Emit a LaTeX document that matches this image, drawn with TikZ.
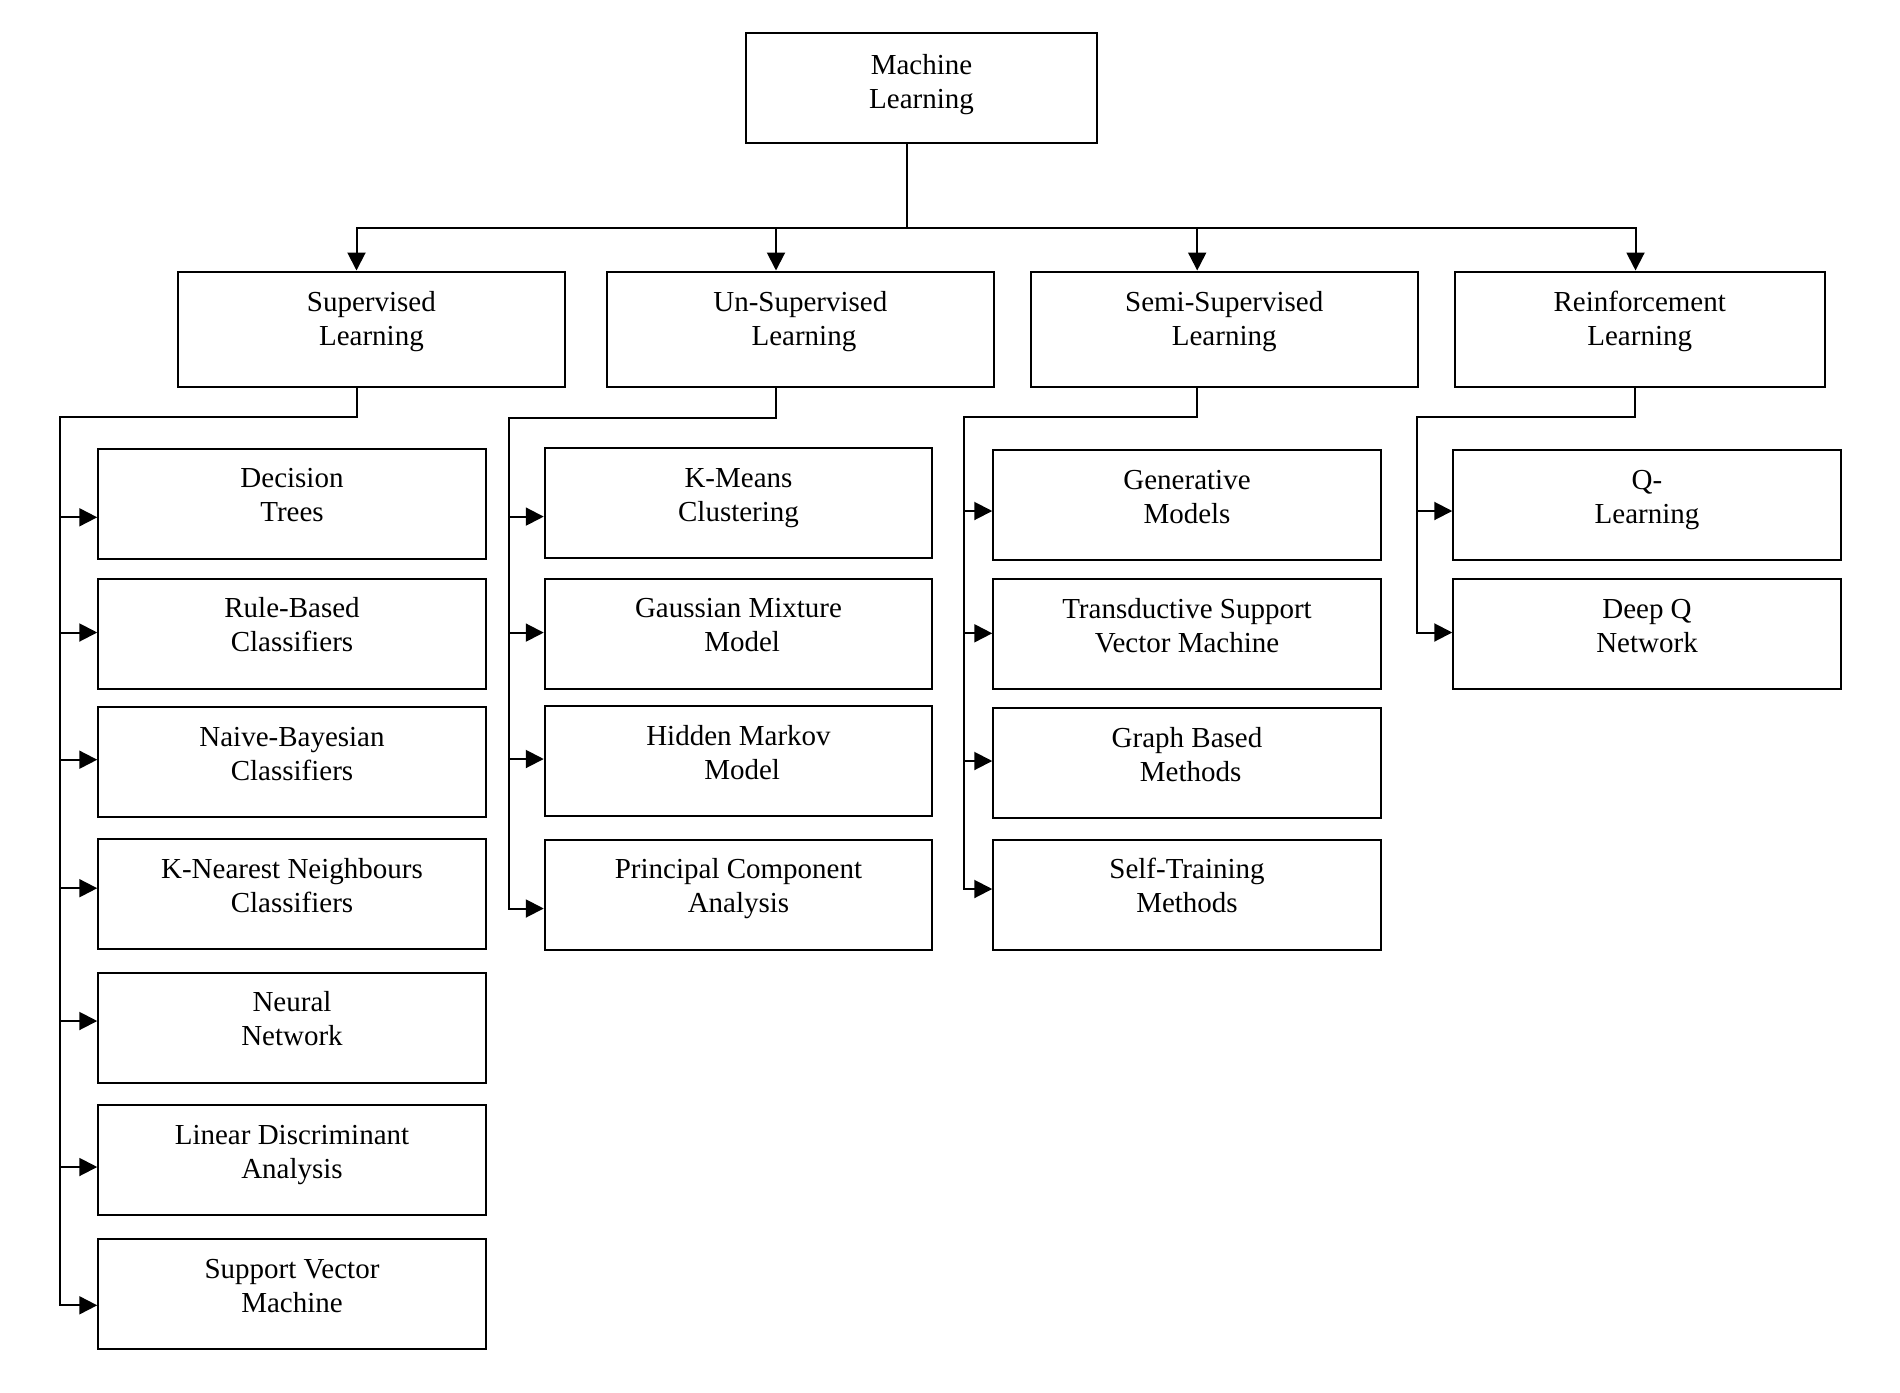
\documentclass[tikz,border=0pt]{standalone}
\usepackage{fontspec}
\setmainfont{Liberation Serif}
\usetikzlibrary{arrows.meta,calc}
% two-line box caption with struts so every caption has the same extent
\newcommand{\mltext}[2]{\strut #1\\#2\strut}
\begin{document}
\begin{tikzpicture}[x=0.5pt,y=-0.5pt,
  catbox/.style={draw, line width=1pt, inner sep=0pt, minimum width=#1},
  topbox/.style={catbox=175.5pt, minimum height=55.4pt},
  headbox/.style={catbox=193.4pt, minimum height=57.6pt},
  leafbox/.style={catbox=193.75pt, minimum height=55pt},
  caption/.style={align=center, inner sep=0pt, font=\fontsize{14.5}{17}\selectfont},
  wire/.style={line width=1pt},
  arr/.style={wire, -{Triangle[length=9pt,width=9pt]}}]
\useasboundingbox (0,0) rectangle (1900,1392);

% root
\node[topbox] (ml) at (921.5,88) {};
\node[caption] (ml-t) at ($(ml.center)+(0,-3.5)$) {\mltext{Machine}{Learning}};

% main categories
\node[headbox] (sup)  at (371.4,329.1) {};
\node[headbox] (uns)  at (800.3,329.1) {};
\node[headbox] (semi) at (1224.2,329.1) {};
\node[catbox=185.2pt, minimum height=57.6pt] (rein) at (1639.7,329.1) {};
\node[caption] (sup-t)  at ($(sup.center)+(0,-7)$)  {\mltext{Supervised}{Learning}};
\node[caption] (uns-t)  at ($(uns.center)+(0,-7)$)  {\mltext{Un-Supervised}{\hspace*{3.6pt}Learning}};
\node[caption] (semi-t) at ($(semi.center)+(0,-7)$) {\mltext{Semi-Supervised}{Learning}};
\node[caption] (rein-t) at ($(rein.center)+(0,-7)$) {\mltext{Reinforcement}{Learning}};

% supervised methods
\foreach \n/\y/\a/\b in {
  dt/503.5/Decision/Trees,
  rb/633.5/Rule-Based/Classifiers,
  nb/762.2/Naive-Bayesian/Classifiers,
  knn/894.3/K-Nearest Neighbours/Classifiers,
  nn/1027.5/Neural/Network,
  lda/1160.2/Linear Discriminant/Analysis,
  svm/1293.7/Support Vector/Machine}{
  \node[leafbox] (\n) at (292,\y) {};
  \node[caption] (\n-t) at ($(\n.center)+(0,-5.5)$) {\mltext{\a}{\b}};
}

% unsupervised methods
\foreach \n/\y/\a/\b in {
  km/503.4/K-Means/Clustering,
  gmm/633.5/Gaussian Mixture/\hspace*{3.6pt}Model,
  hmm/761.4/Hidden Markov/\hspace*{3.6pt}Model,
  pca/894.5/Principal Component/Analysis}{
  \node[leafbox] (\n) at (738.5,\y) {};
  \node[caption] (\n-t) at ($(\n.center)+(0,-5.5)$) {\mltext{\a}{\b}};
}

% semi-supervised methods
\foreach \n/\y/\a/\b in {
  gen/505.3/Generative/Models,
  tsvm/633.8/Transductive Support/Vector Machine,
  gb/763.1/Graph Based/\hspace*{3.6pt}Methods,
  st/894.5/Self-Training/Methods}{
  \node[leafbox] (\n) at (1187,\y) {};
  \node[caption] (\n-t) at ($(\n.center)+(0,-5.5)$) {\mltext{\a}{\b}};
}

% reinforcement methods
\foreach \n/\y/\a/\b in {
  ql/505.3/Q-/Learning,
  dqn/633.8/Deep Q/Network}{
  \node[leafbox] (\n) at (1647,\y) {};
  \node[caption] (\n-t) at ($(\n.center)+(0,-5.5)$) {\mltext{\a}{\b}};
}

% root to the four categories
\coordinate (bus) at (907,228.3);
\coordinate (sa) at (356.5,228.3);
\coordinate (ua) at (776,228.3);
\coordinate (ma) at (1197.2,228.3);
\coordinate (ra) at (1635.5,228.3);
\draw[wire] (ml.south -| bus) -- (bus);
\draw[arr] (bus) -| (sup.north -| sa);
\draw[arr] (bus) -| (rein.north -| ra);
\draw[arr] (ua) -- (uns.north -| ua);
\draw[arr] (ma) -- (semi.north -| ma);

% supervised branch
\coordinate (sup-turn) at (357,417.3);
\coordinate (sup-spine) at (60,417.3);
\draw[arr] (sup.south -| sup-turn) -- (sup-turn) -- (sup-spine) |- (svm.west |- 0,1305.3);
\foreach \n/\y in {dt/517.3, rb/632.5, nb/759.7, knn/888.2, nn/1021, lda/1167}
  \draw[arr] (sup-spine |- 0,\y) -- (\n.west |- 0,\y);

% unsupervised branch
\coordinate (uns-turn) at (776,417.5);
\coordinate (uns-spine) at (509.3,417.5);
\draw[arr] (uns.south -| uns-turn) -- (uns-turn) -- (uns-spine) |- (pca.west |- 0,908.5);
\foreach \n/\y in {km/516.6, gmm/632.6, hmm/759}
  \draw[arr] (uns-spine |- 0,\y) -- (\n.west |- 0,\y);

% semi-supervised branch
\coordinate (semi-turn) at (1197.2,417.3);
\coordinate (semi-spine) at (963.5,417.3);
\draw[arr] (semi.south -| semi-turn) -- (semi-turn) -- (semi-spine) |- (st.west |- 0,889);
\foreach \n/\y in {gen/511, tsvm/633.3, gb/761}
  \draw[arr] (semi-spine |- 0,\y) -- (\n.west |- 0,\y);

% reinforcement branch
\coordinate (rein-turn) at (1635.3,417.3);
\coordinate (rein-spine) at (1416.5,417.3);
\draw[arr] (rein.south -| rein-turn) -- (rein-turn) -- (rein-spine) |- (dqn.west |- 0,632.5);
\draw[arr] (rein-spine |- 0,511) -- (ql.west |- 0,511);
\end{tikzpicture}
\end{document}
